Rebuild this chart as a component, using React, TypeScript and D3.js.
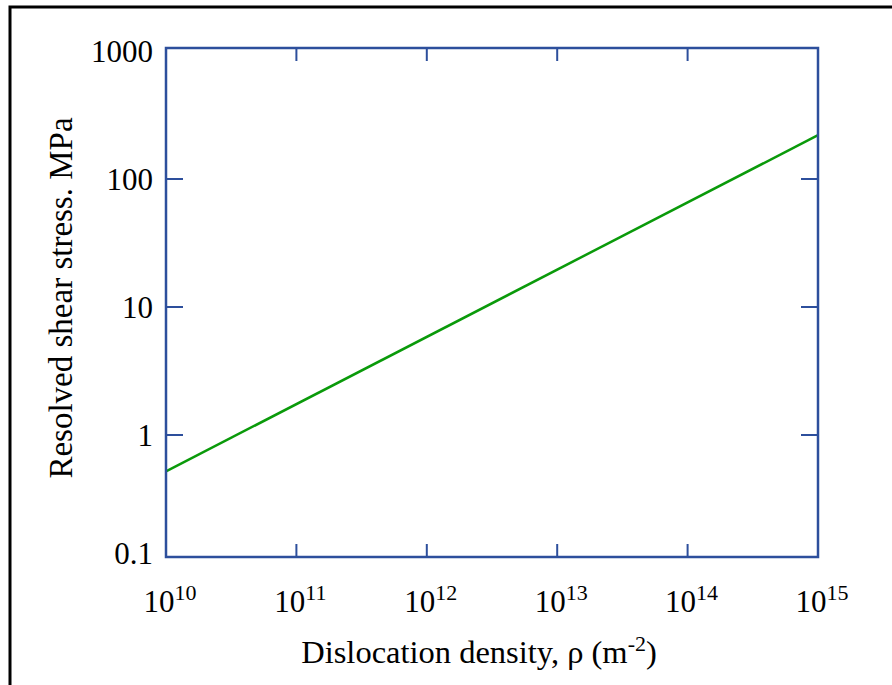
import React from "react";
import * as d3 from "d3";

const densities = [1e10, 1e15];
const stresses = [0.52, 220];
const xTicks = [10, 11, 12, 13, 14, 15];
const yTicks = [0.1, 1, 10, 100, 1000];
const yTickLabels = ["0.1", "1", "10", "100", "1000"];

const W = 892;
const H = 685;
const FRAME = { left: 166, right: 818, top: 48, bottom: 557 };
const BLUE = "#2D4F9C";
const GREEN = "#0A9A0A";
const FONT = "'Liberation Serif', 'Times New Roman', serif";

export default function App() {
  const x = d3.scaleLog().domain([1e10, 1e15]).range([166, 818]);
  const y = d3.scaleLog().domain([0.1, 1000]).range([563, 51]);
  const line = d3
    .line<number>()
    .x((_, i) => x(densities[i]))
    .y((d) => y(d));

  return (
    <svg
      width={W}
      height={H}
      style={{ position: "absolute", left: 0, top: 0, background: "#fff" }}
      fontFamily={FONT}
    >
      <rect x={10} y={7} width={1000} height={1000} fill="none" stroke="#000" strokeWidth={3} />
      {yTicks.slice(1, -1).map((v) => (
        <g key={"yt" + v}>
          <line x1={FRAME.left} x2={FRAME.left + 17} y1={y(v)} y2={y(v)} stroke={BLUE} strokeWidth={2} />
          <line x1={FRAME.right} x2={FRAME.right - 17} y1={y(v)} y2={y(v)} stroke={BLUE} strokeWidth={2} />
        </g>
      ))}
      {xTicks.slice(1, -1).map((e) => (
        <g key={"xt" + e}>
          <line x1={x(Math.pow(10, e))} x2={x(Math.pow(10, e))} y1={FRAME.bottom} y2={FRAME.bottom - 13} stroke={BLUE} strokeWidth={2} />
          <line x1={x(Math.pow(10, e))} x2={x(Math.pow(10, e))} y1={FRAME.top} y2={FRAME.top + 13} stroke={BLUE} strokeWidth={2} />
        </g>
      ))}
      <path d={line(stresses) || ""} fill="none" stroke={GREEN} strokeWidth={2.5} />
      <rect
        x={FRAME.left}
        y={FRAME.top}
        width={FRAME.right - FRAME.left}
        height={FRAME.bottom - FRAME.top}
        fill="none"
        stroke={BLUE}
        strokeWidth={2.5}
      />
      {yTicks.map((v, i) => (
        <text
          key={"yl" + v}
          x={153}
          y={Math.min(y(v), 553)}
          textAnchor="end"
          dominantBaseline="central"
          fontSize={31}
          fill="#000"
        >
          {yTickLabels[i]}
        </text>
      ))}
      {xTicks.map((e) => (
        <text key={"xl" + e} x={x(Math.pow(10, e)) + 4} y={612} textAnchor="middle" fontSize={31} fill="#000">
          10
          <tspan fontSize={22} dy={-12}>
            {e}
          </tspan>
        </text>
      ))}
      <text x={479} y={663} textAnchor="middle" fontSize={32.5} fill="#000">
        Dislocation density, ρ (m
        <tspan fontSize={22} dy={-12}>
          -2
        </tspan>
        <tspan dy={12}>)</tspan>
      </text>
      <text
        transform={`translate(72, 298) rotate(-90)`}
        textAnchor="middle"
        fontSize={33}
        fill="#000"
      >
        Resolved shear stress. MPa
      </text>
    </svg>
  );
}
